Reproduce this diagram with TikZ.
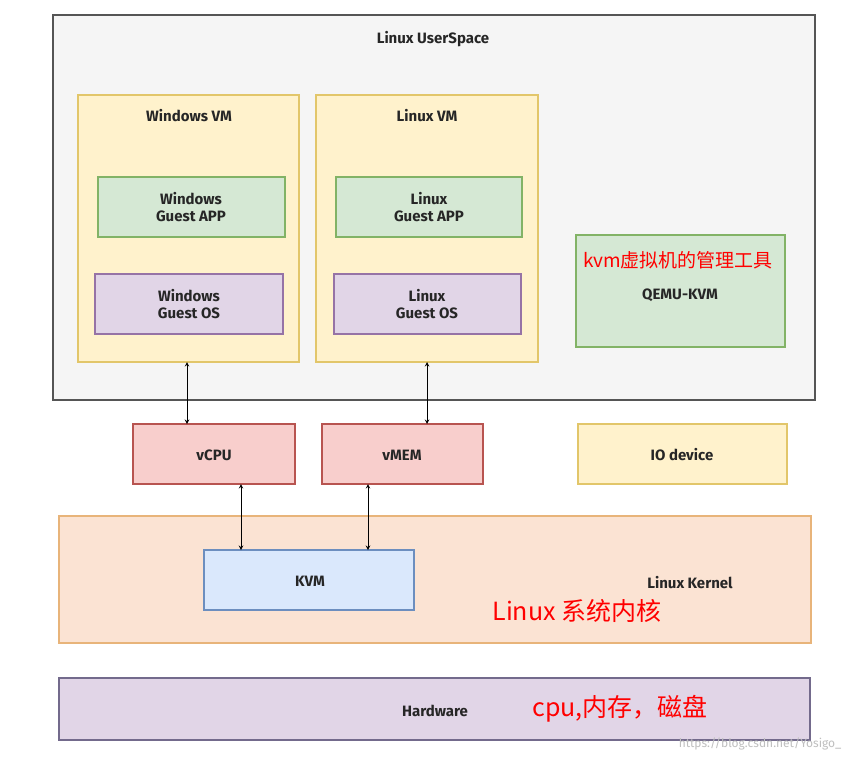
\documentclass[tikz,border=0pt]{standalone}
\usepackage{fontspec}
\setmainfont{Fira Sans}
\newfontfamily\cjk{Noto Sans CJK SC}
\definecolor{grayF}{HTML}{F5F5F5}\definecolor{grayD}{HTML}{555555}
\definecolor{yelF}{HTML}{FFF2CC}\definecolor{yelD}{HTML}{E2C66A}
\definecolor{grnF}{HTML}{D5E8D4}\definecolor{grnD}{HTML}{82B366}
\definecolor{purF}{HTML}{E1D5E7}\definecolor{purD}{HTML}{9673A6}
\definecolor{redF}{HTML}{F8CECC}\definecolor{redD}{HTML}{B85450}
\definecolor{orgF}{HTML}{FBE3D3}\definecolor{orgD}{HTML}{E8B47A}
\definecolor{bluF}{HTML}{DAE8FC}\definecolor{bluD}{HTML}{6C8EBF}
\definecolor{hwD}{HTML}{736A8C}
\tikzset{x=1pt,y=-1pt,
 box/.style={draw=#1D,fill=#1F,line width=1.6pt},
 lbl/.style={font=\bfseries\fontsize{15}{17}\selectfont,align=center,text=black!85},
 red/.style={text=red,font=\cjk\fontsize{#1}{#1}\selectfont},
 arr/.style={<->,>=stealth,line width=1pt}}
\begin{document}
\begin{tikzpicture}
\useasboundingbox[fill=white] (0,0) rectangle (868,761);
\draw[box=gray] (53,15) rectangle (815,400);
\node[lbl] (us) at (433,39) {Linux UserSpace};
\draw[box=yel] (78,95) rectangle (299,362);
\node[lbl] (wvm) at (189,116) {Windows VM};
\draw[box=grn] (98,177) rectangle (285,237);
\node[lbl] (wapp) at (191,207) {Windows\\Guest APP};
\draw[box=pur] (95,274) rectangle (283,334);
\node[lbl] (wos) at (189,304) {Windows\\Guest OS};
\draw[box=yel] (316,95) rectangle (538,362);
\node[lbl] (lvm) at (427,116) {Linux VM};
\draw[box=grn] (336,177) rectangle (522,237);
\node[lbl] (lapp) at (429,207) {Linux\\Guest APP};
\draw[box=pur] (334,274) rectangle (521,334);
\node[lbl] (los) at (427,304) {Linux\\Guest OS};
\draw[box=grn] (576,235) rectangle (785,347);
\node[lbl] (qemu) at (680,295) {QEMU-KVM};
\node[red=19] (qlab) at (678,260) {kvm虚拟机的管理工具};
\draw[box=red] (133,424) rectangle (295,484);
\node[lbl] (vcpu) at (214,455) {vCPU};
\draw[box=red] (322,424) rectangle (483,484);
\node[lbl] (vmem) at (402,455) {vMEM};
\draw[box=yel] (578,424) rectangle (787,484);
\node[lbl] (io) at (682,455) {IO device};
\draw[box=org] (59,516) rectangle (811,643);
\node[lbl] (lk) at (690,583) {Linux Kernel};
\node[red=25] (lkl) at (577,611) {Linux 系统内核};
\draw[box=blu] (204,550) rectangle (414,610);
\node[lbl] (kvm) at (310,581) {KVM};
\draw[draw=hwD,fill=purF,line width=1.6pt] (59,678) rectangle (810,740);
\node[lbl] (hw) at (435,711) {Hardware};
\node[red=25] (hwl) at (620,709) {cpu,内存，磁盘};
\node[text=black!25,font=\fontsize{12}{12}\selectfont] (wm) at (760,744) {https://blog.csdn.net/Yosigo\_};
\coordinate (a1) at (187,362); \coordinate (a2) at (187,424);
\coordinate (b1) at (427,362); \coordinate (b2) at (427,424);
\coordinate (c1) at (241,484); \coordinate (c2) at (241,550);
\coordinate (d1) at (368,484); \coordinate (d2) at (368,550);
\draw[arr] (a1) -- (a2); \draw[arr] (b1) -- (b2);
\draw[arr] (c1) -- (c2); \draw[arr] (d1) -- (d2);
\end{tikzpicture}
\end{document}
